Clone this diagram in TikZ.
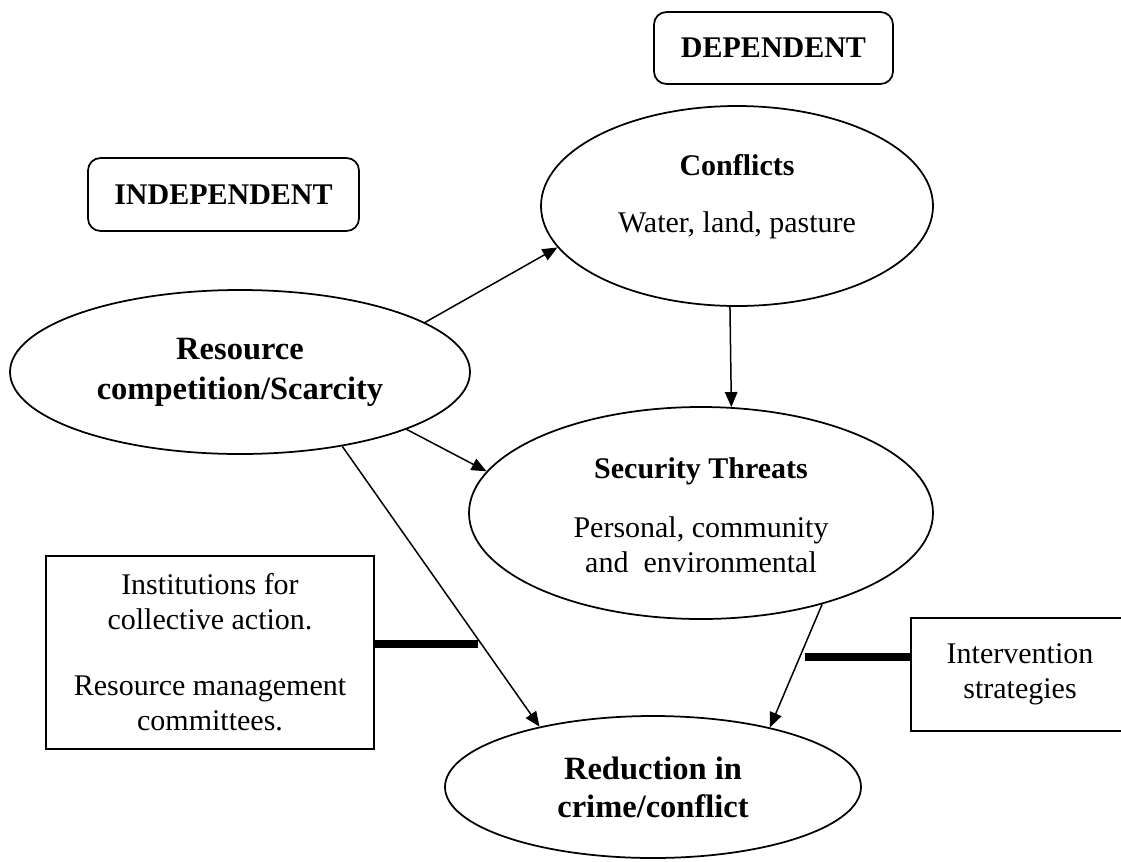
\documentclass[tikz,border=0pt]{standalone}
\usepackage{fontspec}
\setmainfont{Liberation Serif}
\usetikzlibrary{arrows.meta,shapes.geometric}
\tikzset{
  hdr/.style={rectangle, rounded corners=5pt, draw, line width=0.7pt, align=center,
              font=\bfseries\fontsize{12}{14}\selectfont},
  ell/.style={ellipse, draw, line width=0.7pt, inner sep=0pt, align=center},
  big/.style={ell, font=\bfseries\fontsize{13}{16}\selectfont},
  boxb/.style={rectangle, draw, line width=0.7pt, align=center,
               font=\fontsize{12}{14}\selectfont},
  ttl/.style={anchor=base, inner sep=0pt, font=\bfseries\fontsize{12}{14}\selectfont},
  txt/.style={anchor=base, inner sep=0pt, font=\fontsize{12}{14}\selectfont},
  ar/.style={-{Triangle[length=6pt, width=5pt]}, line width=0.6pt},
  lnk/.style={line width=3pt},
}

\begin{document}
\begin{tikzpicture}[x=0.4pt, y=-0.4pt]
    \clip (0,0) rectangle (1121,861);

    % --- headings ---
    \node[hdr, minimum width=95.6pt,  minimum height=28.8pt] (dep)   at (773.5,48)   {DEPENDENT};
    \node[hdr, minimum width=108.4pt, minimum height=29.2pt] (indep) at (223.5,194.5) {INDEPENDENT};

    % --- variables ---
    \node[ell, minimum width=156.8pt, minimum height=80pt] (conf) at (737,206) {};
    \node[ttl] (conf-t) at (737,175) {Conflicts};
    \node[txt] (conf-s) at (737,232) {Water, land, pasture};

    \node[big, minimum width=184pt, minimum height=65.6pt] (res) at (240,372)
        {Resource\\competition/Scarcity};

    \node[ell, minimum width=185.6pt, minimum height=84.8pt] (sec) at (701,513) {};
    \node[ttl] (sec-t)  at (701,478) {Security Threats};
    \node[txt] (sec-s1) at (701,537) {Personal, community};
    \node[txt] (sec-s2) at (701,572) {and\ \ environmental};

    \node[big, minimum width=166.4pt, minimum height=56.8pt,
          font=\bfseries\fontsize{13}{15.2}\selectfont] (red) at (653,787)
        {Reduction in\\crime/conflict};

    \draw[ar] (res.15)  -- (conf.193);
    \draw[ar] (conf.266) -- (sec.74);
    \draw[ar] (res.-19) -- (sec.169);
    \draw[ar] (res.-36) -- (red.152);
    \draw[ar] (sec.-37) -- (red.27);

    % --- moderators ---
    \node[boxb, minimum width=131.2pt, minimum height=77.2pt] (inst) at (210,652.5)
        {Institutions for\\collective action.\\[12.5pt]Resource management\\committees.};
    \node[boxb, minimum width=87.2pt, minimum height=45.2pt] (intv) at (1020,674.5)
        {Intervention\\strategies};
    \coordinate (lkL) at (478,644);
    \coordinate (lkR) at (805,657);
    \draw[lnk] (inst.east |- lkL) -- (lkL);
    \draw[lnk] (lkR) -- (intv.west |- lkR);
\end{tikzpicture}
\end{document}
